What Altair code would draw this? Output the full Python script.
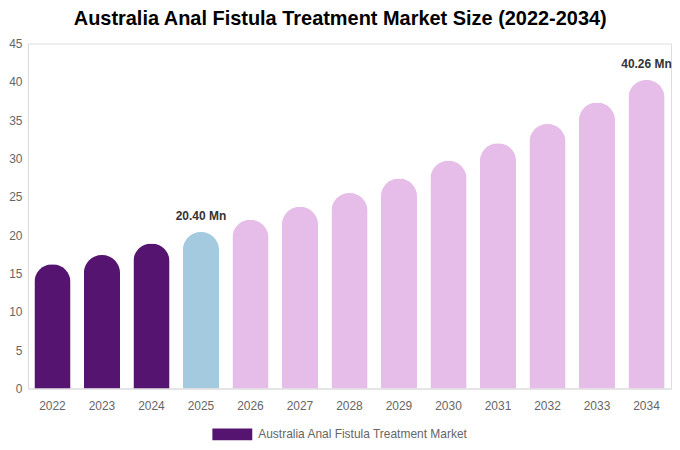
import altair as alt
import pandas as pd

years = [str(y) for y in range(2022, 2035)]
values = [16.2, 17.4, 18.9, 20.40, 22.0, 23.7, 25.5, 27.4, 29.7, 32.0, 34.5, 37.3, 40.26]
phases = ["Historical"] * 3 + ["Base"] + ["Forecast"] * 9
labels = [""] * 3 + ["20.40 Mn"] + [""] * 8 + ["40.26 Mn"]
series_name = "Australia Anal Fistula Treatment Market"
y_ticks = [0, 5, 10, 15, 20, 25, 30, 35, 40, 45]

phase_domain = ["Historical", "Base", "Forecast"]
phase_colors = ["#541470", "#A3CADF", "#E6BCE8"]

df = pd.DataFrame({
    "year": years,
    "value": values,
    "phase": phases,
    "label": labels,
    "series": [series_name] * len(years),
})

font = "Liberation Sans"

x = alt.X(
    "year:N", sort=years, title=None,
    scale=alt.Scale(paddingInner=0.27, paddingOuter=0.13),
    axis=alt.Axis(labelAngle=0, ticks=False, domainColor="#dddddd",
                  labelColor="#666666", labelFontSize=12, labelPadding=12,
                  labelFont=font),
)
y = alt.Y(
    "value:Q", title=None,
    scale=alt.Scale(domain=[0, 45]),
    axis=alt.Axis(values=y_ticks, grid=False, ticks=False, domainColor="#dddddd",
                  labelColor="#666666", labelFontSize=12, labelPadding=6,
                  labelFont=font),
)

bars = alt.Chart(df).mark_bar(
    cornerRadiusTopLeft=18, cornerRadiusTopRight=18
).encode(
    x=x, y=y,
    color=alt.Color("phase:N", scale=alt.Scale(domain=phase_domain, range=phase_colors),
                    legend=None),
)

legend_layer = alt.Chart(df).mark_rect().encode(
    x=alt.value(0), x2=alt.value(0), y=alt.value(0), y2=alt.value(0),
    fill=alt.Fill(
        "series:N",
        scale=alt.Scale(domain=[series_name], range=["#541470"]),
        legend=alt.Legend(
            title=None, orient="none", legendX=185, legendY=372, direction="horizontal",
            symbolType="M-1,-0.3L1,-0.3L1,0.3L-1,0.3Z", symbolSize=1600,
            symbolStrokeWidth=0, symbolOpacity=1, labelColor="#666666",
            labelFontSize=12, labelFont=font, labelOffset=6, labelLimit=400,
        ),
    ),
)

text = alt.Chart(df).transform_filter(alt.datum.label != "").mark_text(
    dy=-16, fontWeight="bold", fontSize=12, color="#333333", font=font
).encode(x=x, y=y, text="label:N")

chart = alt.layer(bars, text, legend_layer).properties(
    width=645, height=346, padding=0,
    title=alt.TitleParams(
        "Australia Anal Fistula Treatment Market Size (2022-2034)",
        fontSize=20, fontWeight="bold", font=font, color="#000000",
        anchor="middle", frame="bounds", offset=9,
    ),
).configure_view(stroke=None).configure(background="white")

chart.save("out.html", embed_options={"renderer": "svg", "actions": False})
